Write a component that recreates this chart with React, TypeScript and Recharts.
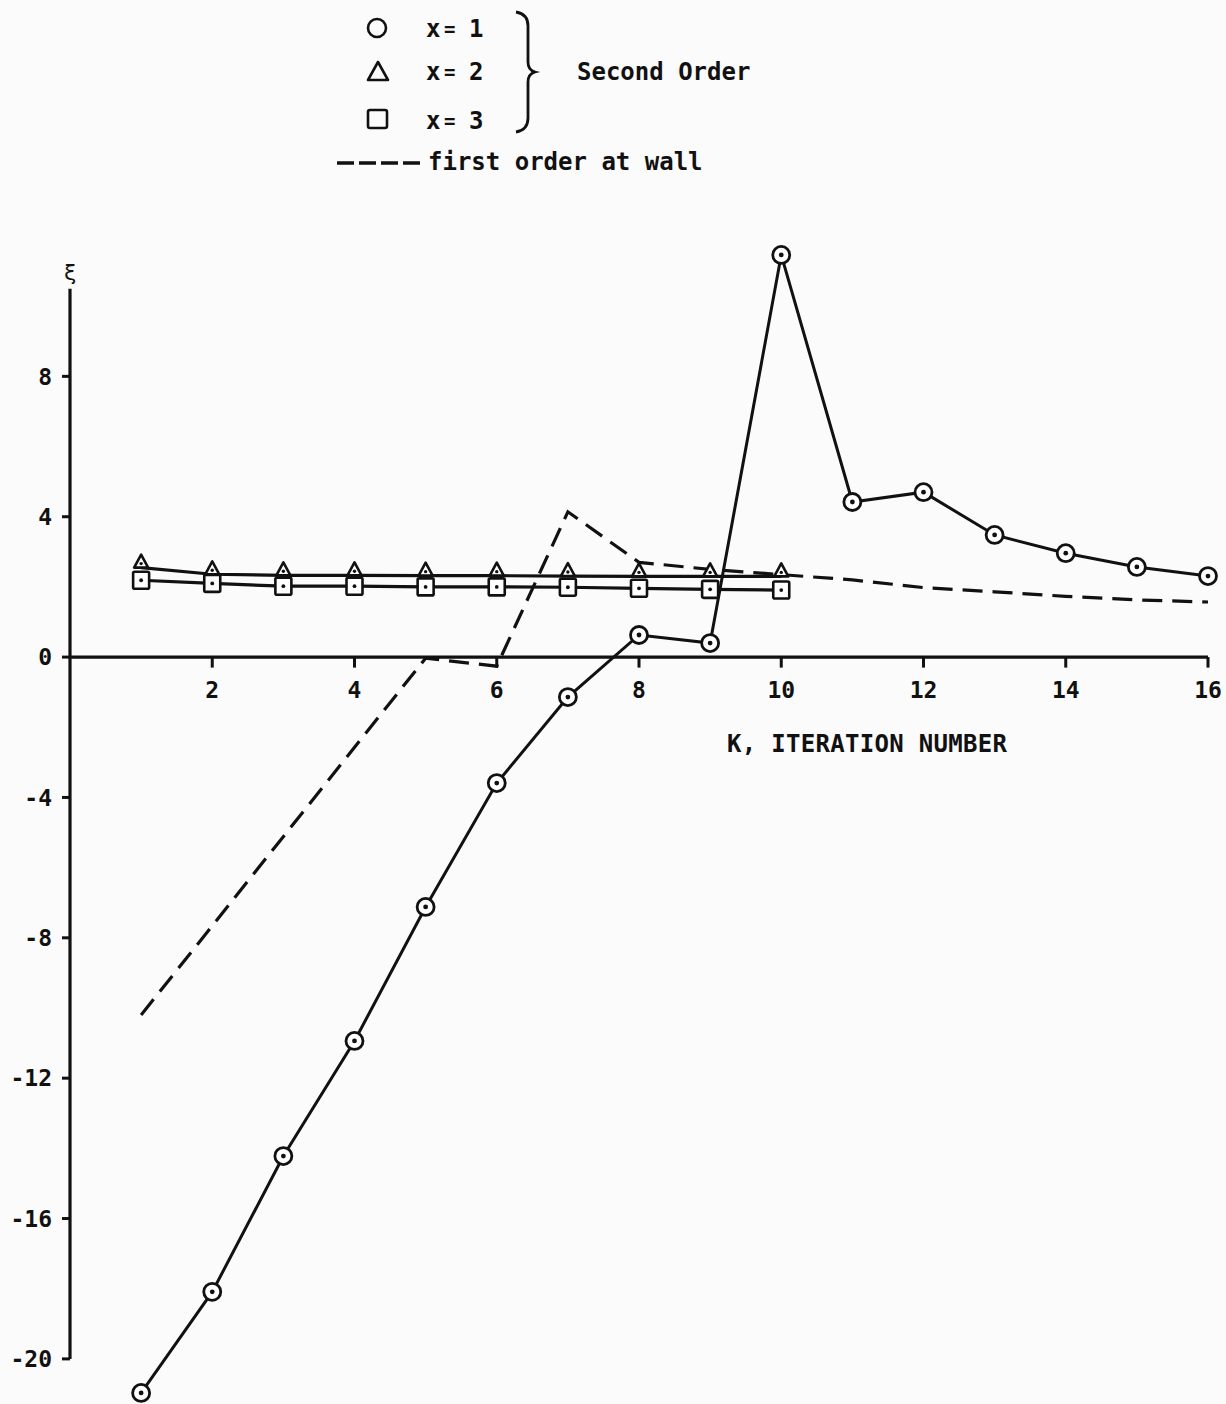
import React from "react";
import { LineChart, Line, XAxis, YAxis, ReferenceLine } from "recharts";

const iterations = [1, 2, 3, 4, 5, 6, 7, 8, 9, 10, 11, 12, 13, 14, 15, 16];
const secondOrderX1 = [-20.97, -18.09, -14.22, -10.94, -7.12, -3.59, -1.14, 0.63, 0.4, 11.46, 4.42, 4.7, 3.48, 2.96, 2.57, 2.31];
const secondOrderX2 = [2.55, 2.36, 2.33, 2.33, 2.32, 2.32, 2.31, 2.3, 2.3, 2.3];
const secondOrderX3 = [2.19, 2.1, 2.02, 2.02, 2.0, 2.0, 1.99, 1.96, 1.93, 1.91];
const firstOrderWall = [-10.2, null, null, null, -0.03, -0.26, 4.14, 2.7, 2.5, 2.35, 2.2, 1.98, 1.86, 1.73, 1.63, 1.57];
const xTicks = [2, 4, 6, 8, 10, 12, 14, 16];
const yTicks = [-20, -16, -12, -8, -4, 0, 4, 8];

const rows = iterations.map((k, i) => ({
  k,
  x1: secondOrderX1[i],
  x2: secondOrderX2[i] ?? null,
  x3: secondOrderX3[i] ?? null,
  fo: firstOrderWall[i],
}));

const FONT = "'DejaVu Sans Mono', monospace";
const INK = "#111";

function CircleDot(props: any) {
  const { cx, cy, index } = props;
  if (cx == null || cy == null) return <g key={`c${index}`} />;
  return (
    <g key={`c${index}`}>
      <circle cx={cx} cy={cy} r={8.5} fill="#fff" stroke={INK} strokeWidth={2.8} />
      <circle cx={cx} cy={cy} r={2.4} fill={INK} />
    </g>
  );
}

function TriangleDot(props: any) {
  const { cx, cy, index } = props;
  if (cx == null || cy == null) return <g key={`t${index}`} />;
  return (
    <g key={`t${index}`}>
      <path d={`M${cx},${cy - 13} L${cx - 7},${cy} L${cx + 7},${cy} Z`} fill="#fff" stroke={INK} strokeWidth={2.6} strokeLinejoin="round" />
      <circle cx={cx} cy={cy - 4} r={1.7} fill={INK} />
    </g>
  );
}

function SquareDot(props: any) {
  const { cx, cy, index } = props;
  if (cx == null || cy == null) return <g key={`s${index}`} />;
  return (
    <g key={`s${index}`}>
      <rect x={cx - 8} y={cy - 8.5} width={16} height={17} rx={1.5} fill="#fff" stroke={INK} strokeWidth={2.6} />
      <circle cx={cx} cy={cy} r={1.9} fill={INK} />
    </g>
  );
}

function Overlay() {
  const t = { fontFamily: FONT, fontSize: 24, fontWeight: 700, fill: INK } as const;
  return (
    <svg width={1226} height={1404} style={{ position: "absolute", left: 0, top: 0, pointerEvents: "none" }}>
      {/* legend */}
      <circle cx={377} cy={28} r={9} fill="none" stroke={INK} strokeWidth={2.6} />
      <path d="M378,62 L368,80 L388,80 Z" fill="none" stroke={INK} strokeWidth={2.6} strokeLinejoin="round" />
      <rect x={368} y={110} width={19} height={18} rx={2} fill="none" stroke={INK} strokeWidth={2.6} />
      {["1", "2", "3"].map((n, i) => {
        const base = [37, 80, 129][i];
        return (
          <g key={n}>
            <text x={426} y={base} {...t}>x</text>
            <text x={444} y={base - 1} {...t} fontSize={19}>=</text>
            <text x={469} y={base} {...t}>{n}</text>
          </g>
        );
      })}
      <path d="M516,12 Q528,14 528,26 L528,62 Q528,70 535,72 Q528,74 528,82 L528,118 Q528,130 516,132" fill="none" stroke={INK} strokeWidth={2.8} />
      <text x={577} y={80} {...t}>Second Order</text>
      <line x1={337} y1={163} x2={425} y2={163} stroke={INK} strokeWidth={3.4} strokeDasharray="17 5" />
      <text x={428} y={170} {...t}>first order at wall</text>
      {/* x axis title */}
      <text x={727} y={752} {...t} textLength={280}>K, ITERATION NUMBER</text>
    </svg>
  );
}

export default function App() {
  const tickStyle = { fontFamily: FONT, fontSize: 23, fontWeight: 700, fill: INK };
  return (
    <div style={{ position: "absolute", left: 0, top: 0, width: 1226, height: 1404, background: "#fbfbfb", overflow: "hidden" }}>
      <LineChart width={1226} height={1404} data={rows} margin={{ top: 236, right: 18, bottom: 3, left: 0 }}>
        <XAxis dataKey="k" type="number" domain={[0, 16]} hide />
        <YAxis
          type="number"
          domain={[-21.2, 12]}
          ticks={yTicks}
          width={70}
          axisLine={false}
          tickLine={{ stroke: INK, strokeWidth: 3 }}
          tickSize={8}
          tickMargin={10}
          tick={tickStyle}
        />
        <ReferenceLine
          segment={[{ x: 0, y: -20 }, { x: 0, y: 10.5 }]}
          stroke={INK}
          strokeWidth={3.2}
          ifOverflow="visible"
          label={{ value: "ξ", position: "top", offset: 9, fontSize: 22, fill: INK, fontFamily: FONT }}
        />
        <ReferenceLine segment={[{ x: 0, y: 0 }, { x: 16, y: 0 }]} stroke={INK} strokeWidth={3.4} ifOverflow="visible" />
        {xTicks.map((k) => (
          <ReferenceLine
            key={k}
            segment={[{ x: k, y: 0 }, { x: k, y: -0.3 }]}
            stroke={INK}
            strokeWidth={3}
            ifOverflow="visible"
            label={{ value: String(k), position: "bottom", offset: 14, ...tickStyle }}
          />
        ))}
        <Line dataKey="fo" stroke={INK} strokeWidth={3.2} strokeDasharray="20 10" dot={false} connectNulls isAnimationActive={false} />
        <Line dataKey="x3" stroke={INK} strokeWidth={3.2} dot={SquareDot} isAnimationActive={false} />
        <Line dataKey="x2" stroke={INK} strokeWidth={3.2} dot={TriangleDot} isAnimationActive={false} />
        <Line dataKey="x1" stroke={INK} strokeWidth={3} dot={CircleDot} isAnimationActive={false} />
      </LineChart>
      <Overlay />
    </div>
  );
}
